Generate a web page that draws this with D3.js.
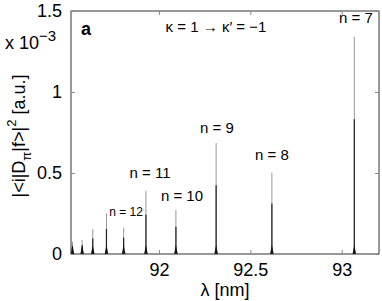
<!DOCTYPE html>
<html><head><meta charset="utf-8">
<script src="https://cdn.jsdelivr.net/npm/d3@7"></script>
<style>body{margin:0;background:#fff}svg{display:block}text{font-family:"Liberation Sans",Arial,sans-serif;fill:#000}</style>
</head><body>
<script>
const peakLambda = [91.527, 91.580, 91.638, 91.713, 91.807, 91.929, 92.093, 92.313, 92.618, 93.069];
const peakValue  = [0.076, 0.086, 0.154, 0.250, 0.162, 0.391, 0.272, 0.685, 0.502, 1.341];
const peakLabels = [null, null, null, "n = 12", null, "n = 11", "n = 10", "n = 9", "n = 8", "n = 7"];
const xTicks = [92, 92.5, 93];
const yTicks = [0, 0.5, 1, 1.5];

const W = 382, H = 301;
const m = {l:71, r:3, t:11, b:47};
const svg = d3.select("body").append("svg").attr("width", W).attr("height", H);
const x = d3.scaleLinear().domain([91.519, 93.204]).range([m.l, W - m.r]);
const y = d3.scaleLinear().domain([0, 1.5]).range([H - m.b, m.t]);

const g = svg.append("g");
// peaks
peakLambda.forEach((l, i) => {
  const v = peakValue[i];
  g.append("line").attr("x1", x(l)).attr("x2", x(l)).attr("y1", y(0)).attr("y2", y(v))
    .attr("stroke", "#999").attr("stroke-width", 1);
  g.append("line").attr("x1", x(l)).attr("x2", x(l)).attr("y1", y(0)).attr("y2", y(v * 0.62))
    .attr("stroke", "#222").attr("stroke-width", 1.2);
  g.append("path").attr("d", `M${x(l)-1.8},${y(0)} L${x(l)},${y(0)-9} L${x(l)+1.8},${y(0)} Z`)
    .attr("fill", "#111");
});

// axes box with inside ticks
const axisColor = "#333";
g.append("rect").attr("x", m.l).attr("y", m.t).attr("width", W - m.r - m.l).attr("height", H - m.b - m.t)
  .attr("fill", "none").attr("stroke", axisColor).attr("stroke-width", 1);
const ax = svg.append("g");
const bottomAxis = d3.axisBottom(x).tickValues(xTicks).tickSize(-4).tickPadding(9).tickFormat(d3.format(""));
const gb = ax.append("g").attr("transform", `translate(0,${y(0)})`).call(bottomAxis);
const topAxis = d3.axisTop(x).tickValues(xTicks).tickSize(-4).tickFormat("");
ax.append("g").attr("transform", `translate(0,${m.t})`).call(topAxis);
const leftAxis = d3.axisLeft(y).tickValues(yTicks).tickSize(-4).tickPadding(9).tickFormat(d => d === 0 ? "0" : d3.format("")(d));
const gl = ax.append("g").attr("transform", `translate(${m.l},0)`).call(leftAxis);
const rightAxis = d3.axisRight(y).tickValues(yTicks).tickSize(-4).tickFormat("");
ax.append("g").attr("transform", `translate(${W - m.r},0)`).call(rightAxis);
ax.selectAll(".domain").remove();
ax.selectAll(".tick line").attr("stroke", "#888");
gb.selectAll("text").attr("font-size", 18).attr("font-family", "Liberation Sans, Arial, sans-serif").attr("dy", "0.71em");
gl.selectAll("text").attr("font-size", 18).attr("font-family", "Liberation Sans, Arial, sans-serif");

// peak labels
const labelPos = {"n = 7":[356, 23, 15], "n = 8":[272, 160, 15], "n = 9":[217, 133, 15], "n = 10":[182, 201, 15], "n = 11":[150, 178, 15], "n = 12":[126, 216, 12]};
peakLabels.forEach(lb => {
  if (!lb) return;
  const p = labelPos[lb];
  svg.append("text").attr("x", p[0]).attr("y", p[1]).attr("text-anchor", "middle").attr("font-size", p[2]).text(lb);
});

// title a
svg.append("text").attr("x", 81).attr("y", 35).attr("font-size", 18).attr("font-weight", "bold").text("a");
svg.append("text").attr("x", 216).attr("y", 32).attr("text-anchor", "middle").attr("font-size", 15).text("κ = 1 → κ′ = −1");

// multiplier
const mult = svg.append("text").attr("x", 5).attr("y", 49).attr("font-size", 18);
mult.append("tspan").text("x 10");
mult.append("tspan").attr("dy", -8).attr("font-size", 15).text("−3");

// y label
const yl = svg.append("text").attr("transform", "translate(25,136) rotate(-90)").attr("text-anchor", "middle").attr("font-size", 18);
yl.append("tspan").text("|<i|D");
yl.append("tspan").attr("dy", 6).attr("font-size", 13).text("π");
yl.append("tspan").attr("dy", -6).text("|f>|");
yl.append("tspan").attr("dy", -9).attr("font-size", 13).text("2");
yl.append("tspan").attr("dy", 9).text(" [a.u.]");

// x label
svg.append("text").attr("x", 225).attr("y", 296).attr("text-anchor", "middle").attr("font-size", 18).text("λ [nm]");
</script>
</body></html>
